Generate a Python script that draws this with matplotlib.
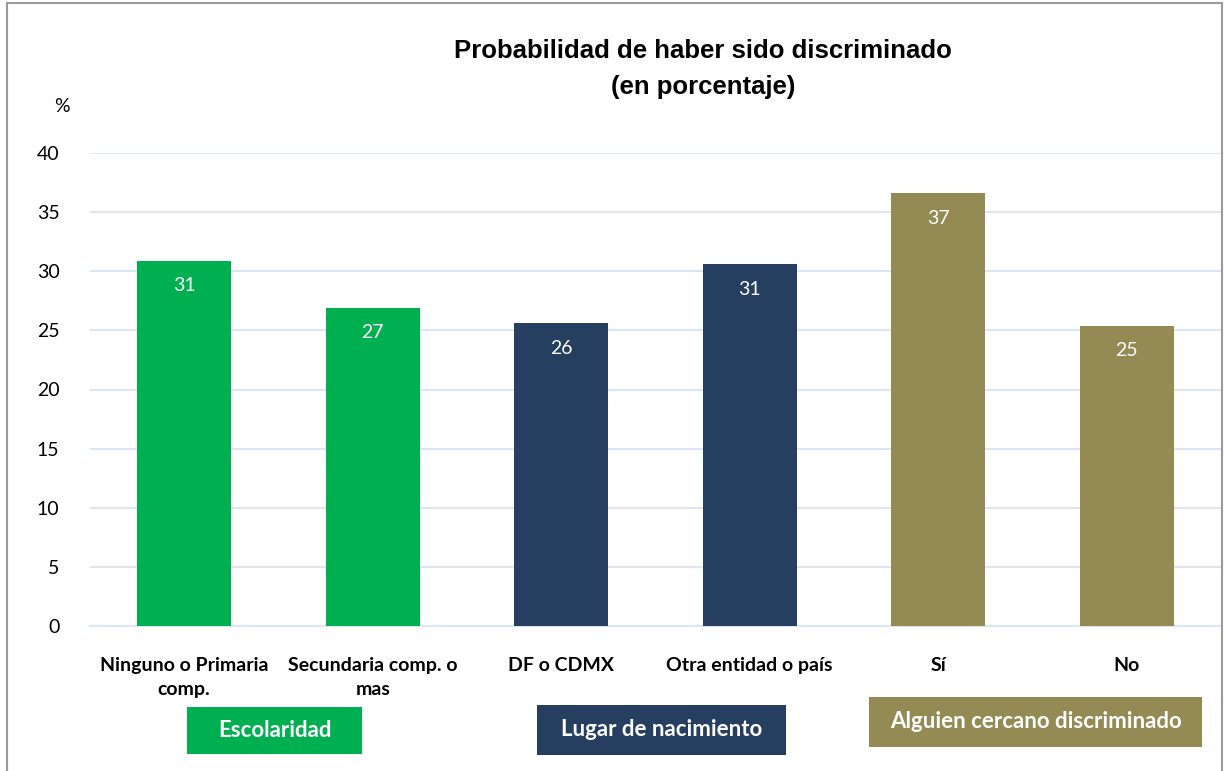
import matplotlib.pyplot as plt
from matplotlib.patches import Rectangle

plt.rcParams['font.family'] = ['Lato', 'DejaVu Sans']

categories = ["Ninguno o Primaria\ncomp.", "Secundaria comp. o\nmas", "DF o CDMX",
              "Otra entidad o país", "Sí", "No"]
values = [30.9, 26.9, 25.6, 30.6, 36.6, 25.4]
groups = ["Escolaridad", "Lugar de nacimiento", "Alguien cercano discriminado"]
group_of_bar = [0, 0, 1, 1, 2, 2]
group_colors = ["#00B050", "#263F60", "#948A54"]
yticks = [0, 5, 10, 15, 20, 25, 30, 35, 40]

W, H = 1224, 771
fig = plt.figure(figsize=(W / 100, H / 100), dpi=100)
ax = fig.add_axes([90 / W, 1 - 626 / H, (1221 - 90) / W, (626 - 153) / H])

x = list(range(len(categories)))
colors = [group_colors[g] for g in group_of_bar]
bars = ax.bar(x, values, width=0.5, color=colors, zorder=3)

for rect, v in zip(bars, values):
    ax.annotate(f"{round(v):d}", (rect.get_x() + rect.get_width() / 2, v),
                xytext=(0, -18), textcoords="offset points", ha="center", va="center",
                color="white", fontsize=14, zorder=4)

ax.set_xlim(-0.5, 5.5)
ax.set_ylim(0, 40)
ax.set_yticks(yticks)
ax.yaxis.grid(True, color="#DCE6F2", linewidth=1.5, zorder=0)
ax.set_axisbelow(True)
for s in ["top", "right", "left"]:
    ax.spines[s].set_visible(False)
ax.spines["bottom"].set_color("#DCE6F2")
ax.spines["bottom"].set_linewidth(1.5)
ax.tick_params(axis="y", length=0, pad=22, labelsize=14)
ax.tick_params(axis="x", length=0, pad=22)
ax.set_xticks(x)
ax.set_xticklabels(categories, fontsize=14, fontweight="bold", linespacing=1.55)

fig.text(703 / W, 1 - 69 / H, "Probabilidad de haber sido discriminado\n(en porcentaje)",
         ha="center", va="center", fontsize=18.5, fontweight="bold", linespacing=1.6,
         family=["Liberation Sans Narrow", "Liberation Sans", "DejaVu Sans"])
fig.text(62 / W, 1 - 107 / H, "%", ha="center", va="center", fontsize=14)

# group boxes under the axis
boxes = [(187, 362, 707, 754), (537, 786, 705, 755), (869, 1202, 697, 747)]
for name, col, (x0, x1, y0, y1) in zip(groups, group_colors, boxes):
    fig.patches.append(Rectangle((x0 / W, 1 - y1 / H), (x1 - x0) / W, (y1 - y0) / H,
                                 transform=fig.transFigure, facecolor=col, edgecolor="none"))
    fig.text((x0 + x1) / 2 / W, 1 - (y0 + y1) / 2 / H, name, ha="center", va="center",
             color="white", fontsize=16, fontweight="bold")

# outer border
fig.patches.append(Rectangle((7 / W, -0.01), (1222 - 7) / W, 1 - 3 / H + 0.01,
                             transform=fig.transFigure, facecolor="none",
                             edgecolor="#9A9A9A", linewidth=1.5))

plt.savefig("out.png", dpi=100)
